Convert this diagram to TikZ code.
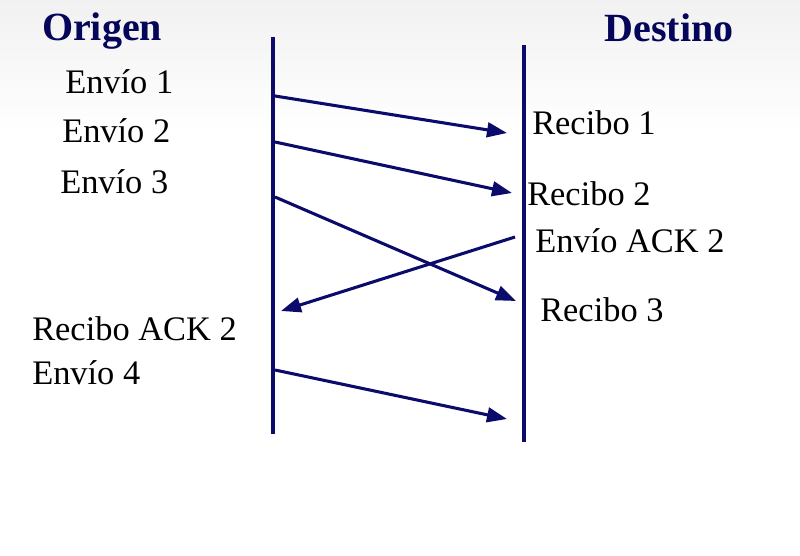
\documentclass[tikz,border=0pt]{standalone}
\usepackage{fontspec}
\setmainfont{Liberation Serif}
\usepackage{xcolor}
\definecolor{LineNavy}{HTML}{0B0B6B}
\definecolor{TitleNavy}{HTML}{05055A}
\usepackage{tikz}
\usetikzlibrary{arrows.meta,positioning}

\begin{document}
\begin{tikzpicture}[x=0.75pt, y=-0.75pt, every node/.style={font=\fontsize{25.8}{30}\selectfont, inner sep=0pt}]
\tikzset{title/.style={font=\fontsize{30}{34}\selectfont\bfseries, text=TitleNavy}}
\tikzset{lbl/.style={anchor=west, text=black}}
\tikzset{lifeline/.style={LineNavy, line width=2.3pt}}
\tikzset{msg/.style={LineNavy, line width=2.3pt, -{Triangle[length=15pt, width=11pt]}}}
% background
\useasboundingbox (0,0) rectangle (800,556);
\shade[top color=gray!11, bottom color=white] (0,0) rectangle (800,130);
% titles
\node[title] (origen) at (102,31) {Origen};
\node[title] (destino) at (669,28) {Destino};
% life lines
\coordinate (otop) at (273,37);
\coordinate (obot) at (273,434);
\coordinate (dtop) at (524,45);
\coordinate (dbot) at (524,442);
\draw[lifeline] (otop) -- (obot);
\draw[lifeline] (dtop) -- (dbot);
% labels
\node[lbl] (env1) at (65,82) {Envío 1};
\node[lbl] (env2) at (62,131) {Envío 2};
\node[lbl] (env3) at (60,182) {Envío 3};
\node[lbl] (rec1) at (532,123) {Recibo 1};
\node[lbl] (rec2) at (527,194) {Recibo 2};
\node[lbl] (ack2) at (535,241) {Envío ACK 2};
\node[lbl] (rec3) at (540,310) {Recibo 3};
\node[lbl] (rack2) at (32,329) {Recibo ACK 2};
\node[lbl] (env4) at (32,373) {Envío 4};
% message ends
\coordinate (s1) at (275,96);  \coordinate (e1) at (507,133);
\coordinate (s2) at (275,142); \coordinate (e2) at (512,193);
\coordinate (s3) at (275,197); \coordinate (e3) at (516,301);
\coordinate (s4) at (515,237); \coordinate (e4) at (281,311);
\coordinate (s5) at (275,370); \coordinate (e5) at (507,419);
\draw[msg] (s1) -- (e1);
\draw[msg] (s2) -- (e2);
\draw[msg] (s3) -- (e3);
\draw[msg] (s4) -- (e4);
\draw[msg] (s5) -- (e5);
\end{tikzpicture}
\end{document}
